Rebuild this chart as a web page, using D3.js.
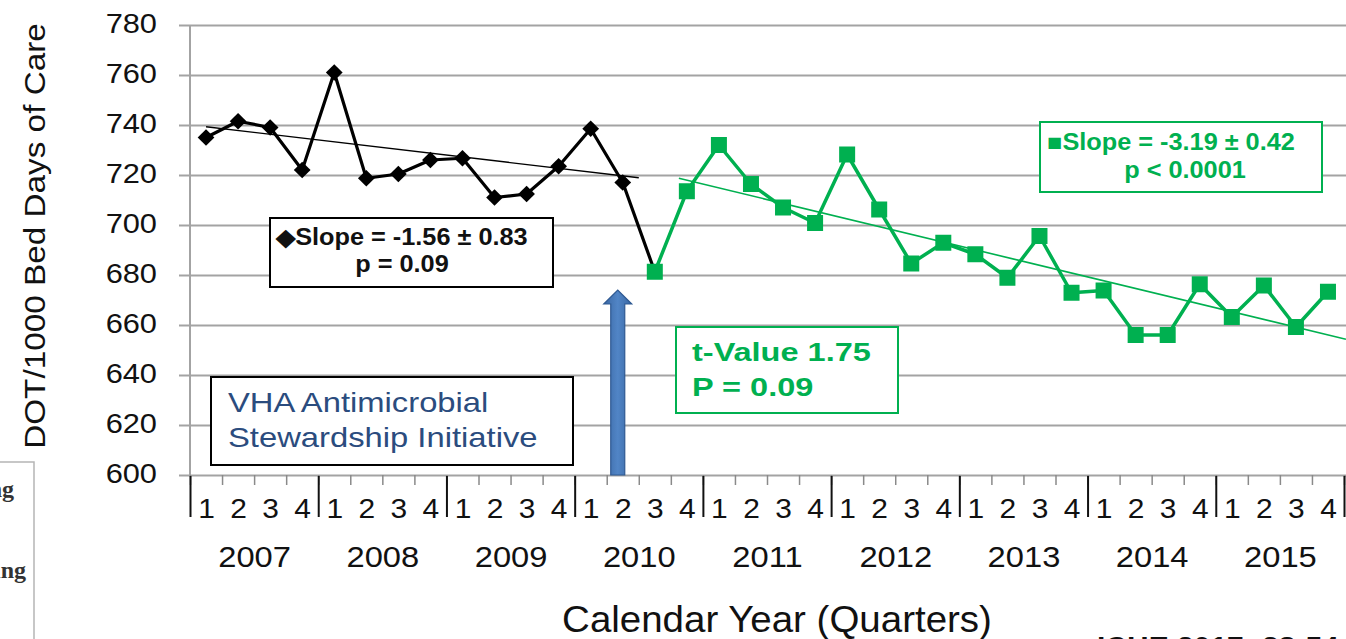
<!DOCTYPE html>
<html>
<head>
<meta charset="utf-8">
<script src="https://cdn.jsdelivr.net/npm/d3@7"></script>
<style>
  html, body { margin: 0; padding: 0; background: #fff; }
  svg { display: block; }
  text { font-family: "Liberation Sans", Arial, sans-serif; }
</style>
</head>
<body>
<svg id="chart" width="1346" height="639"></svg>
<script>
// ---------------- data ----------------
const years = ["2007","2008","2009","2010","2011","2012","2013","2014","2015"];
const quarterLabels = ["1","2","3","4"];
const yTicks = [600,620,640,660,680,700,720,740,760,780];
// DOT/1000 bed days, pre-initiative (2007 Q1 – 2010 Q2)
const blackDOT = [735, 741.5, 739, 722, 761, 718.7, 720.4, 726, 726.7, 711, 712.4, 723.5, 738.5, 717];
// post-initiative (2010 Q3 – 2015 Q4)
const greenDOT = [681.3, 713.5, 732, 716.4, 707, 700.8, 728.2, 706.2, 684.6, 692.9, 688.3, 678.9,
                  695.6, 672.9, 673.8, 656, 656, 676.3, 663.2, 675.8, 659.2, 673.3];
// trend lines: [quarter index, value]
const blackTrend = [[0, 739.3], [13.5, 718.9]];
const greenTrend = [[14.75, 718.7], [35.56, 654.3]];
const yTitle = "DOT/1000 Bed Days of Care";
const xTitle = "Calendar Year (Quarters)";
const blackNote = ["\u25C6Slope = -1.56 \u00B1 0.83", "p = 0.09"];
const greenNote = ["\u25A0Slope = -3.19 \u00B1 0.42", "p < 0.0001"];
const tNote = ["t-Value 1.75", "P = 0.09"];
const vhaNote = ["VHA Antimicrobial", "Stewardship Initiative"];
const sourceNote = "ICHE 2017; 38:54";

// ---------------- setup ----------------
const svg = d3.select("#chart");
const W = 1346;
const GREEN = "#00b050", BLACK = "#000", GRID = "#a3a3a3";
const nQ = years.length * 4;
const x = d3.scaleLinear().domain([0, nQ]).range([190, 1344]);
const y = d3.scaleLinear().domain([600, 780]).range([475, 25]);
const cx = i => x(i + 0.5);

function stext(parent, o) {
  return parent.append("text")
    .attr("transform", `translate(${o.x},${o.y}) rotate(${o.rotate || 0}) scale(${o.sx || 1},1)`)
    .attr("text-anchor", o.anchor || "start")
    .attr("font-size", o.size)
    .attr("font-weight", o.weight || "normal")
    .attr("fill", o.fill || "#000")
    .style("font-family", o.family || null)
    .text(o.text);
}

// ---------------- left-edge artefact (cropped page) ----------------
const art = svg.append("g");
art.append("path").attr("d", "M0,462 H34 V639").attr("fill", "none").attr("stroke", "#b5b5b5").attr("stroke-width", 1.5);
stext(art, {x: 14, y: 497, text: "ing", size: 24, anchor: "end", weight: "bold", fill: "#333", family: "'Liberation Serif', serif"});
stext(art, {x: 26, y: 578, text: "ing", size: 24, anchor: "end", weight: "bold", fill: "#333", family: "'Liberation Serif', serif"});

// ---------------- y axis (grid + labels) ----------------
const yAxisG = svg.append("g").attr("transform", `translate(${W},0)`)
  .call(d3.axisLeft(y).tickValues(yTicks).tickSize(W - 179).tickPadding(22));
yAxisG.select(".domain").remove();
yAxisG.selectAll(".tick line").attr("stroke", GRID).attr("stroke-width", 2);
yAxisG.selectAll(".tick text")
  .attr("x", null).attr("dy", null)
  .attr("transform", `translate(${-(W - 179) - 22},7) scale(1.1,1)`)
  .attr("font-size", 28).attr("fill", "#111")
  .style("font-family", "'Liberation Sans', Arial, sans-serif");

// vertical axis line
svg.append("line").attr("x1", 190).attr("x2", 190).attr("y1", y(780)).attr("y2", y(600))
  .attr("stroke", GRID).attr("stroke-width", 2);

// ---------------- x axis ----------------
const xAxisY = y(600);
const qTicks = svg.append("g").attr("transform", `translate(0,${xAxisY})`)
  .call(d3.axisBottom(x).tickValues(d3.range(0, nQ + 1)).tickSize(10).tickFormat(""));
qTicks.select(".domain").remove();
qTicks.selectAll(".tick line").attr("stroke", "#8a8a8a").attr("stroke-width", 1.5);

const yrTicks = svg.append("g").attr("transform", `translate(0,${xAxisY + 1})`)
  .call(d3.axisBottom(x).tickValues(d3.range(0, nQ + 1, 4)).tickSize(41).tickFormat(""));
yrTicks.select(".domain").remove();
yrTicks.selectAll(".tick line").attr("stroke", "#111").attr("stroke-width", 2);

const qLabelVals = d3.range(0, nQ).map(i => i + 0.5);
const qLab = svg.append("g").attr("transform", `translate(0,${xAxisY})`)
  .call(d3.axisBottom(x).tickValues(qLabelVals).tickSize(0)
    .tickFormat((d) => quarterLabels[Math.floor(d) % 4]));
qLab.select(".domain").remove();
qLab.selectAll(".tick text").attr("y", null).attr("dy", null)
  .attr("transform", "translate(0,43) scale(1.07,1)")
  .attr("font-size", 28).attr("fill", "#111")
  .style("font-family", "'Liberation Sans', Arial, sans-serif");

const yrLabelVals = years.map((d, k) => k * 4 + 2);
const yrLab = svg.append("g").attr("transform", `translate(0,${xAxisY})`)
  .call(d3.axisBottom(x).tickValues(yrLabelVals).tickSize(0)
    .tickFormat((d) => years[(d - 2) / 4]));
yrLab.select(".domain").remove();
yrLab.selectAll(".tick text").attr("y", null).attr("dy", null)
  .attr("transform", "translate(0,92) scale(1.09,1)")
  .attr("font-size", 30).attr("fill", "#111")
  .style("font-family", "'Liberation Sans', Arial, sans-serif");

// axis titles
stext(svg, {x: 45, y: 236, text: yTitle, size: 30, anchor: "middle", rotate: -90, sx: 1.11, fill: "#111"});
stext(svg, {x: 777, y: 632, text: xTitle, size: 37, anchor: "middle", sx: 1.04, fill: "#111"});
stext(svg, {x: 1097, y: 657, text: sourceNote, size: 30, anchor: "start", fill: "#111", weight: "bold"});

// ---------------- series ----------------
const blackPts = blackDOT.map((v, i) => [i, v]);
const greenPts = greenDOT.map((v, i) => [i + blackDOT.length, v]);
const line = d3.line().x(d => cx(d[0])).y(d => y(d[1]));

svg.append("path").datum(blackPts.concat([greenPts[0]]))
  .attr("d", line).attr("fill", "none").attr("stroke", BLACK).attr("stroke-width", 3.2)
  .attr("stroke-linejoin", "round");
svg.append("path").datum(greenPts)
  .attr("d", line).attr("fill", "none").attr("stroke", GREEN).attr("stroke-width", 3.5)
  .attr("stroke-linejoin", "round");

svg.append("path").datum(blackTrend).attr("d", line)
  .attr("fill", "none").attr("stroke", BLACK).attr("stroke-width", 1.4);
svg.append("path").datum(greenTrend).attr("d", line)
  .attr("fill", "none").attr("stroke", GREEN).attr("stroke-width", 1.6);

svg.append("g").selectAll("path").data(blackPts).join("path")
  .attr("d", d3.symbol(d3.symbolSquare, 140)())
  .attr("transform", d => `translate(${cx(d[0])},${y(d[1])}) rotate(45)`)
  .attr("fill", BLACK);
svg.append("g").selectAll("rect").data(greenPts).join("rect")
  .attr("x", d => cx(d[0]) - 8).attr("y", d => y(d[1]) - 8)
  .attr("width", 16).attr("height", 16).attr("fill", GREEN);

// ---------------- annotations ----------------
// black slope box
svg.append("rect").attr("x", 270).attr("y", 218).attr("width", 283).attr("height", 69)
  .attr("fill", "#fff").attr("stroke", "#000").attr("stroke-width", 2);
stext(svg, {x: 402, y: 245, text: blackNote[0], size: 23, weight: "bold", anchor: "middle", sx: 1.1, fill: "#111"});
stext(svg, {x: 402, y: 272, text: blackNote[1], size: 23, weight: "bold", anchor: "middle", sx: 1.1, fill: "#111"});

// green slope box
svg.append("rect").attr("x", 1040).attr("y", 122).attr("width", 282).attr("height", 70)
  .attr("fill", "#fff").attr("stroke", GREEN).attr("stroke-width", 2);
stext(svg, {x: 1171, y: 150, text: greenNote[0], size: 23, weight: "bold", anchor: "middle", sx: 1.1, fill: GREEN});
stext(svg, {x: 1185, y: 178, text: greenNote[1], size: 23, weight: "bold", anchor: "middle", sx: 1.1, fill: GREEN});

// t-value box
svg.append("rect").attr("x", 676).attr("y", 327).attr("width", 222).attr("height", 86)
  .attr("fill", "#fff").attr("stroke", GREEN).attr("stroke-width", 2);
stext(svg, {x: 692, y: 361, text: tNote[0], size: 26, weight: "bold", anchor: "start", sx: 1.25, fill: GREEN});
stext(svg, {x: 692, y: 396, text: tNote[1], size: 26, weight: "bold", anchor: "start", sx: 1.25, fill: GREEN});

// VHA box
svg.append("rect").attr("x", 211).attr("y", 377).attr("width", 362).attr("height", 88)
  .attr("fill", "#fff").attr("stroke", "#000").attr("stroke-width", 2);
stext(svg, {x: 228, y: 412, text: vhaNote[0], size: 28, anchor: "start", sx: 1.17, fill: "#2b4c7e"});
stext(svg, {x: 228, y: 447, text: vhaNote[1], size: 28, anchor: "start", sx: 1.17, fill: "#2b4c7e"});

// arrow marking the initiative start (2010 Q2)
const ax = cx(13) - 5;
const arrow = d3.path();
arrow.moveTo(ax - 7, y(600));
arrow.lineTo(ax - 7, 304);
arrow.lineTo(ax - 14, 304);
arrow.lineTo(ax, 290);
arrow.lineTo(ax + 14, 304);
arrow.lineTo(ax + 7, 304);
arrow.lineTo(ax + 7, y(600));
arrow.closePath();
const defs = svg.append("defs");
const grad = defs.append("linearGradient").attr("id", "ag").attr("x1", "0").attr("x2", "1").attr("y1", "0").attr("y2", "0");
grad.append("stop").attr("offset", "0").attr("stop-color", "#3a67a3");
grad.append("stop").attr("offset", "0.5").attr("stop-color", "#5185c6");
grad.append("stop").attr("offset", "1").attr("stop-color", "#3a67a3");
svg.append("path").attr("d", arrow.toString()).attr("fill", "url(#ag)")
  .attr("stroke", "#2f5a93").attr("stroke-width", 1.2);
</script>
</body>
</html>
